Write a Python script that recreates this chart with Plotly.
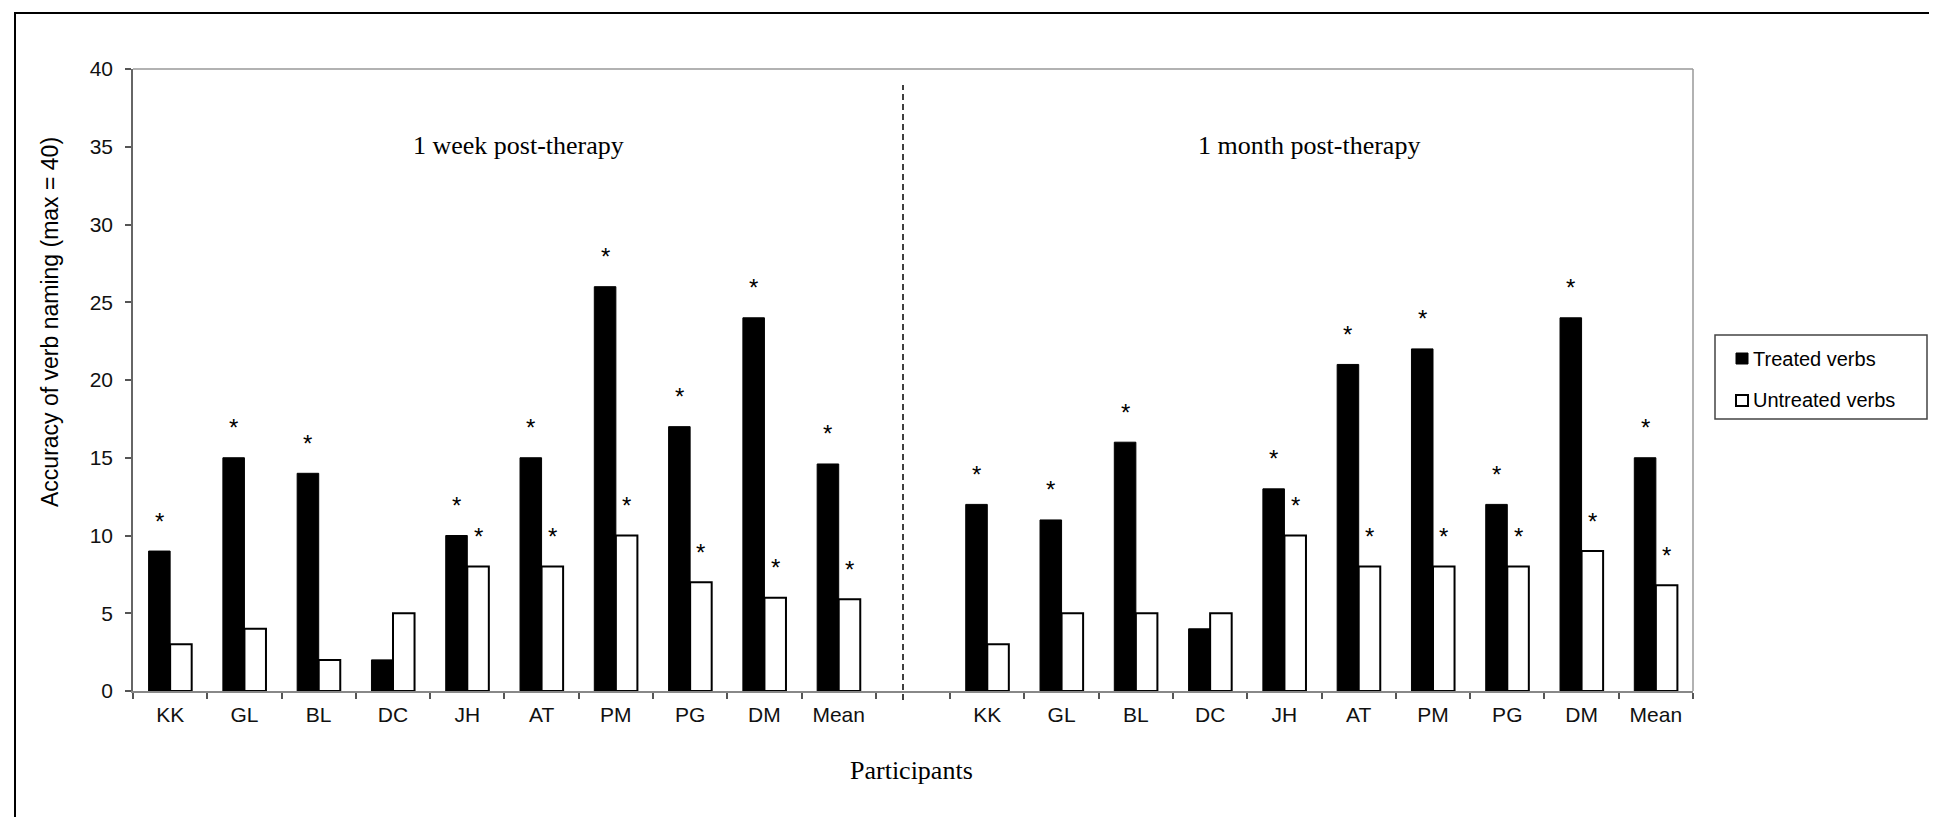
import plotly.graph_objects as go

# ---------------- data ----------------
participants = ["KK", "GL", "BL", "DC", "JH", "AT", "PM", "PG", "DM", "Mean"]
periods = ["1 week post-therapy", "1 month post-therapy"]
series_names = ["Treated verbs", "Untreated verbs"]

week_treated = [9, 15, 14, 2, 10, 15, 26, 17, 24, 14.6]
week_untreated = [3, 4, 2, 5, 8, 8, 10, 7, 6, 5.9]
month_treated = [12, 11, 16, 4, 13, 21, 22, 12, 24, 15]
month_untreated = [3, 5, 5, 5, 10, 8, 8, 8, 9, 6.8]

# significance markers (1 = asterisk shown)
week_treated_sig = [1, 1, 1, 0, 1, 1, 1, 1, 1, 1]
week_untreated_sig = [0, 0, 0, 0, 1, 1, 1, 1, 1, 1]
month_treated_sig = [1, 1, 1, 0, 1, 1, 1, 1, 1, 1]
month_untreated_sig = [0, 0, 0, 0, 1, 1, 1, 1, 1, 1]

y_ticks = [0, 5, 10, 15, 20, 25, 30, 35, 40]
y_title = "Accuracy of verb naming (max = 40)"
x_title = "Participants"

# ---------------- layout helpers ----------------
W, H = 1937, 817
L, R, T, B = 125, 1685, 61, 683
SANS = "Liberation Sans, Arial, sans-serif"
SERIF = "Liberation Serif, Times New Roman, serif"


def px(x):
    return (x - L) / (R - L)


def py(y):
    return (B - y) / (B - T)


n = len(participants)
x_week = list(range(n))
x_month = [i + n + 1 for i in range(n)]
xs = x_week + x_month
labels = participants + participants
treated = week_treated + month_treated
untreated = week_untreated + month_untreated
treated_sig = week_treated_sig + month_treated_sig
untreated_sig = week_untreated_sig + month_untreated_sig

BARGAP = 0.42
bar_w = (1 - BARGAP) / 2

fig = go.Figure()
fig.add_bar(x=xs, y=treated, name=series_names[0],
            marker=dict(color="black", line=dict(color="black", width=1)))
fig.add_bar(x=xs, y=untreated, name=series_names[1],
            marker=dict(color="white", line=dict(color="black", width=2)))

annotations = []
star_font = dict(family=SANS, size=24, color="black")
# asterisks
for x, v, s in zip(xs, treated, treated_sig):
    if s:
        annotations.append(dict(x=x - bar_w / 2, y=v, text="*", showarrow=False,
                                xanchor="center", yanchor="middle", yshift=30, font=star_font))
for x, v, s in zip(xs, untreated, untreated_sig):
    if s:
        annotations.append(dict(x=x + bar_w / 2, y=v, text="*", showarrow=False,
                                xanchor="center", yanchor="middle", yshift=30, font=star_font))


def paper_text(x, y, text, font, **kw):
    d = dict(xref="paper", yref="paper", x=px(x), y=py(y), text=text, showarrow=False,
             xanchor="center", yanchor="middle", font=font)
    d.update(kw)
    annotations.append(d)


serif_font = dict(family=SERIF, size=26, color="black")
# period labels
paper_text(510, 137, periods[0], serif_font)
paper_text(1301, 137, periods[1], serif_font)
# axis titles
paper_text(42, 314, y_title, dict(family=SANS, size=23, color="black"), textangle=-90)
paper_text(903, 762, x_title, serif_font)
# manual legend text
legend_font = dict(family=SANS, size=20, color="black")
paper_text(1743, 351, series_names[0], legend_font, xanchor="left")
paper_text(1743, 392, series_names[1], legend_font, xanchor="left")

shapes = [
    # top and right frame of plot area
    dict(type="line", xref="paper", yref="paper", x0=0, x1=1, y0=1, y1=1,
         line=dict(color="#999999", width=1.5)),
    dict(type="line", xref="paper", yref="paper", x0=1, x1=1, y0=0, y1=1,
         line=dict(color="#999999", width=1.5)),
    # dashed separator
    dict(type="line", xref="paper", yref="paper", x0=px(895), x1=px(895),
         y0=py(692), y1=py(77), line=dict(color="black", width=1.5, dash="6px,4px")),
    # outer border
    dict(type="rect", xref="paper", yref="paper", x0=px(7), x1=px(1929),
         y0=py(810), y1=py(5), line=dict(color="black", width=2)),
    # legend box
    dict(type="rect", xref="paper", yref="paper", x0=px(1707), x1=px(1919),
         y0=py(411), y1=py(327), line=dict(color="#444444", width=1.5)),
    # legend swatches
    dict(type="rect", xref="paper", yref="paper", x0=px(1728), x1=px(1740),
         y0=py(356), y1=py(345), fillcolor="black", line=dict(color="black", width=1)),
    dict(type="rect", xref="paper", yref="paper", x0=px(1728), x1=px(1740),
         y0=py(398), y1=py(387), fillcolor="white", line=dict(color="black", width=2)),
]

fig.update_layout(
    width=W, height=H,
    margin=dict(l=L, r=W - R, t=T, b=H - B, pad=0),
    paper_bgcolor="white", plot_bgcolor="white",
    barmode="group", bargap=BARGAP, bargroupgap=0,
    showlegend=False,
    annotations=annotations, shapes=shapes,
    xaxis=dict(range=[-0.5, 2 * n + 0.5], tickmode="array", tickvals=xs, ticktext=labels,
               ticks="", showline=True, linecolor="#888888", linewidth=1.5,
               showgrid=False, zeroline=False, ticklabelstandoff=4,
               tickfont=dict(family=SANS, size=21, color="#111111"),
               minor=dict(tickmode="linear", tick0=-0.5, dtick=1, ticks="outside",
                          ticklen=6, tickwidth=1.5, tickcolor="#555555", showgrid=False)),
    yaxis=dict(range=[0, 40], tickmode="array", tickvals=y_ticks, ticks="outside",
               ticklen=6, tickwidth=1.5, tickcolor="#555555",
               showline=True, linecolor="#666666", linewidth=1.5,
               showgrid=False, zeroline=False, ticklabelstandoff=8,
               tickfont=dict(family=SANS, size=21, color="#111111")),
)

fig.write_html("out.html")
